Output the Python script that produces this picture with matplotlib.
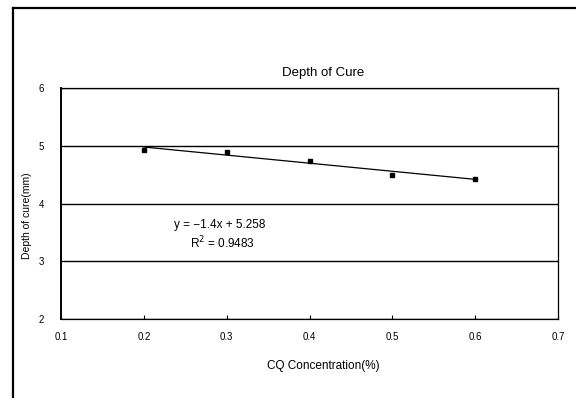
import matplotlib
matplotlib.use("Agg")
import matplotlib.pyplot as plt
from matplotlib.lines import Line2D
import numpy as np

plt.rcParams['font.family'] = ['Liberation Sans', 'DejaVu Sans']

# data
cq = [0.2, 0.3, 0.4, 0.5, 0.6]
depth = [4.93, 4.90, 4.73, 4.50, 4.43]
slope, intercept = -1.4, 5.258
eq_text = "y = \u22121.4x + 5.258"
r2_text = "R$^2$ = 0.9483"

W, H = 576, 398
fig = plt.figure(figsize=(W / 100, H / 100), dpi=100)
ax = fig.add_axes([61 / W, 1 - 319 / H, (558 - 61) / W, (319 - 88) / H])

# trendline
xs = np.array([cq[0], cq[-1]])
ax.plot(xs, slope * xs + intercept, color="black", lw=0.9, zorder=3)
ax.plot(cq, depth, "s", color="black", ms=2.2, zorder=4)

ax.set_xlim(0.1, 0.7)
ax.set_ylim(2, 6)
ax.set_xticks(np.arange(0.1, 0.71, 0.1))
ax.set_xticklabels(["0.1", "0.2", "0.3", "0.4", "0.5", "0.6", "0.7"])
ax.set_yticks([2, 3, 4, 5, 6])
ax.yaxis.grid(True, color="black", lw=1.0)
ax.set_axisbelow(True)
ax.tick_params(axis="x", direction="in", length=3, labelsize=7, pad=9)
ax.tick_params(axis="y", length=0, labelsize=7, pad=12)
for s in ax.spines.values():
    s.set_color("black")
    s.set_linewidth(0.9)
ax.spines["left"].set_linewidth(1.4)

# trendline annotation
ax.text(0.292, 3.62, eq_text, ha="center", va="center", fontsize=8.5)
ax.text(0.295, 3.31, r2_text, ha="center", va="center", fontsize=8.5)

fig.text(323 / W, 1 - 73 / H, "Depth of Cure", ha="center", va="center",
         fontsize=9.5)
fig.text(323 / W, 1 - 366 / H, "CQ Concentration(%)", ha="center",
         va="center", fontsize=8.5)
fig.text(27 / W, 1 - 216 / H, "Depth of cure(mm)", ha="center",
         va="center", rotation=90, fontsize=7.5)

# outer chart frame (left and top edges visible)
fig.add_artist(Line2D([12.5 / W, 12.5 / W], [0, 1 - 7.5 / H],
                      color="black", lw=1.6))
fig.add_artist(Line2D([12.5 / W, 1], [1 - 7.5 / H, 1 - 7.5 / H],
                      color="black", lw=1.6))

fig.savefig("out.png", dpi=100)
